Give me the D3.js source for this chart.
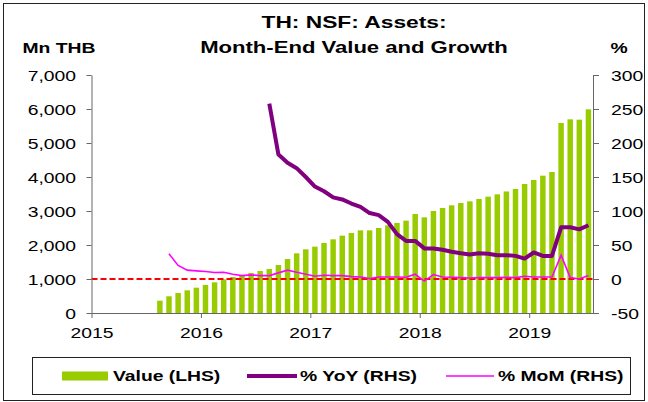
<!DOCTYPE html>
<html>
<head>
<meta charset="utf-8">
<style>
  body { margin: 0; background: #fff; }
  text { font-family: "Liberation Sans", Arial, sans-serif; fill: #000; }
</style>
<title>TH: NSF: Assets</title>
</head>
<body>
<script src="https://cdn.jsdelivr.net/npm/d3@7"></script>
<script>
// month-end asset value, Mn THB (Aug 2015 .. Jul 2019)
var valueStart = "2015-08";
var values = [362, 491, 588, 667, 745,
  824, 902, 990, 1059, 1108, 1176, 1235, 1294, 1412, 1588, 1755, 1873,
  1951, 2059, 2167, 2275, 2353, 2431, 2431, 2500, 2578, 2647, 2716, 2912,
  2814, 3000, 3088, 3167, 3235, 3284, 3353, 3422, 3490, 3575, 3647, 3794,
  3912, 4039, 4147, 5588, 5696, 5686, 5990];

// % YoY (Aug 2016 .. Jul 2019)
var yoyStart = "2016-08";
var yoy = [258, 183, 171, 163, 150,
  136, 129, 120, 117, 111, 106, 97, 94, 84, 66, 56, 56,
  45, 45, 43, 40, 38, 36, 38, 37, 35, 35, 34, 30,
  39, 34, 34, 76, 76, 73, 79];

// % MoM (Sep 2015 .. Jul 2019)
var momStart = "2015-09";
var mom = [37, 20, 13, 12,
  11, 9.5, 9.8, 7, 5, 6, 5, 5, 9, 13, 10, 7,
  4, 5.5, 5, 5, 3.5, 3, 0.5, 3, 3, 3, 2.5, 7,
  -3, 6.5, 3, 2.5, 2, 1.5, 2, 2, 2, 2.5, 2, 4,
  3, 3, 3, 35, 2, 0, 5];

var years = ["2015", "2016", "2017", "2018", "2019"];
var leftTicks = [0, 1000, 2000, 3000, 4000, 5000, 6000, 7000];
var rightTicks = [-50, 0, 50, 100, 150, 200, 250, 300];

var W = 648, H = 402;
var plotL = 91.5, plotR = 593, plotT = 75, plotB = 313;
var sx = 1.38; // the original picture is stretched horizontally

// month categories Jan 2015 .. Jul 2019
var parse = d3.timeParse("%Y-%m"), fmt = d3.timeFormat("%Y-%m");
var months = d3.timeMonth.range(parse("2015-01"), parse("2019-08")).map(fmt);

var x = d3.scaleBand().domain(months).range([plotL, plotR])
  .paddingInner(0.4).paddingOuter(0.2);
var xi = d3.scaleLinear().domain([0, months.length]).range([plotL, plotR]);
var yL = d3.scaleLinear().domain([0, 7000]).range([plotB, plotT]);
var yR = d3.scaleLinear().domain([-50, 300]).range([plotB, plotT]);

function series(start, arr) {
  var i0 = months.indexOf(start);
  return arr.map(function(v, i) { return {m: months[i0 + i], v: v}; });
}
var bars = series(valueStart, values);
var yoyData = series(yoyStart, yoy);
var momData = series(momStart, mom);
var cx = function(d) { return x(d.m) + x.bandwidth() / 2; };

var svg = d3.select("body").append("svg")
  .attr("width", W).attr("height", H);

// outer frame
svg.append("rect").attr("x", 3.5).attr("y", 3.5)
  .attr("width", 641).attr("height", 397)
  .attr("fill", "none").attr("stroke", "#222").attr("stroke-width", 1);

function label(x0, y0, txt, size, weight, anchor) {
  return svg.append("text")
    .attr("transform", "translate(" + x0 + "," + y0 + ") scale(" + sx + ",1)")
    .style("font-size", size + "px").style("font-weight", weight)
    .style("text-anchor", anchor || "middle").text(txt);
}

// title
label(354, 28, "TH: NSF: Assets:", 16.5, "bold");
label(354, 53, "Month-End Value and Growth", 16, "bold");
label(59, 53, "Mn THB", 14, "bold");
label(619, 53, "%", 14, "bold");

// bars
svg.append("g").selectAll("rect").data(bars).enter().append("rect")
  .attr("x", function(d) { return x(d.m); })
  .attr("width", x.bandwidth())
  .attr("y", function(d) { return yL(d.v); })
  .attr("height", function(d) { return plotB - yL(d.v); })
  .attr("fill", "#99cc00");

// zero line of the RHS
svg.append("line")
  .attr("x1", plotL).attr("x2", plotR)
  .attr("y1", yR(0)).attr("y2", yR(0))
  .attr("stroke", "#ff0000").attr("stroke-width", 2)
  .attr("stroke-dasharray", "6,3");

var line = d3.line().x(cx).y(function(d) { return yR(d.v); });

svg.append("path").datum(momData).attr("d", line)
  .attr("fill", "none").attr("stroke", "#ff00ff").attr("stroke-width", 1.6);

svg.append("path").datum(yoyData).attr("d", line)
  .attr("fill", "none").attr("stroke", "#800080").attr("stroke-width", 4)
  .attr("stroke-linejoin", "round");

// axes
function styleAxis(g) {
  g.select(".domain").attr("stroke", "#666");
  g.selectAll(".tick line").attr("stroke", "#666");
  g.selectAll(".tick text").style("font-size", "14px").attr("fill", "#000");
}

var gl = svg.append("g").attr("transform", "translate(" + plotL + ",0)")
  .call(d3.axisLeft(yL).tickValues(leftTicks).tickFormat(d3.format(","))
    .tickSize(5).tickSizeOuter(0));
styleAxis(gl);
gl.selectAll(".tick text").attr("x", -15.5 / sx).attr("dy", "0.36em")
  .attr("transform", "scale(" + sx + ",1)");

var gr = svg.append("g").attr("transform", "translate(" + plotR + ",0)")
  .call(d3.axisRight(yR).tickValues(rightTicks)
    .tickFormat(function(d) { return String(d); })
    .tickSize(6).tickSizeOuter(0));
styleAxis(gr);
gr.selectAll(".tick text").attr("x", 18 / sx).attr("dy", "0.36em")
  .attr("transform", "scale(" + sx + ",1)");

var gb = svg.append("g").attr("transform", "translate(0," + plotB + ")")
  .call(d3.axisBottom(xi).tickValues([0, 12, 24, 36, 48])
    .tickFormat(function(d, i) { return years[i]; })
    .tickSize(5).tickSizeOuter(0));
styleAxis(gb);
gb.selectAll(".tick text").attr("y", 25).attr("dy", 0)
  .attr("transform", "scale(" + sx + ",1)");

// legend
var ly = 376;
svg.append("rect").attr("x", 32.5).attr("y", 357.5)
  .attr("width", 598).attr("height", 37)
  .attr("fill", "#fff").attr("stroke", "#222");
svg.append("rect").attr("x", 62).attr("y", ly - 4.5)
  .attr("width", 46).attr("height", 9).attr("fill", "#99cc00");
label(113, ly + 5, "Value (LHS)", 14, "bold", "start");
svg.append("line").attr("x1", 247).attr("x2", 297)
  .attr("y1", ly).attr("y2", ly)
  .attr("stroke", "#800080").attr("stroke-width", 4);
label(300, ly + 5, "% YoY (RHS)", 14, "bold", "start");
svg.append("line").attr("x1", 446).attr("x2", 494)
  .attr("y1", ly).attr("y2", ly)
  .attr("stroke", "#ff00ff").attr("stroke-width", 1.6);
label(498, ly + 5, "% MoM (RHS)", 14, "bold", "start");
</script>
</body>
</html>
